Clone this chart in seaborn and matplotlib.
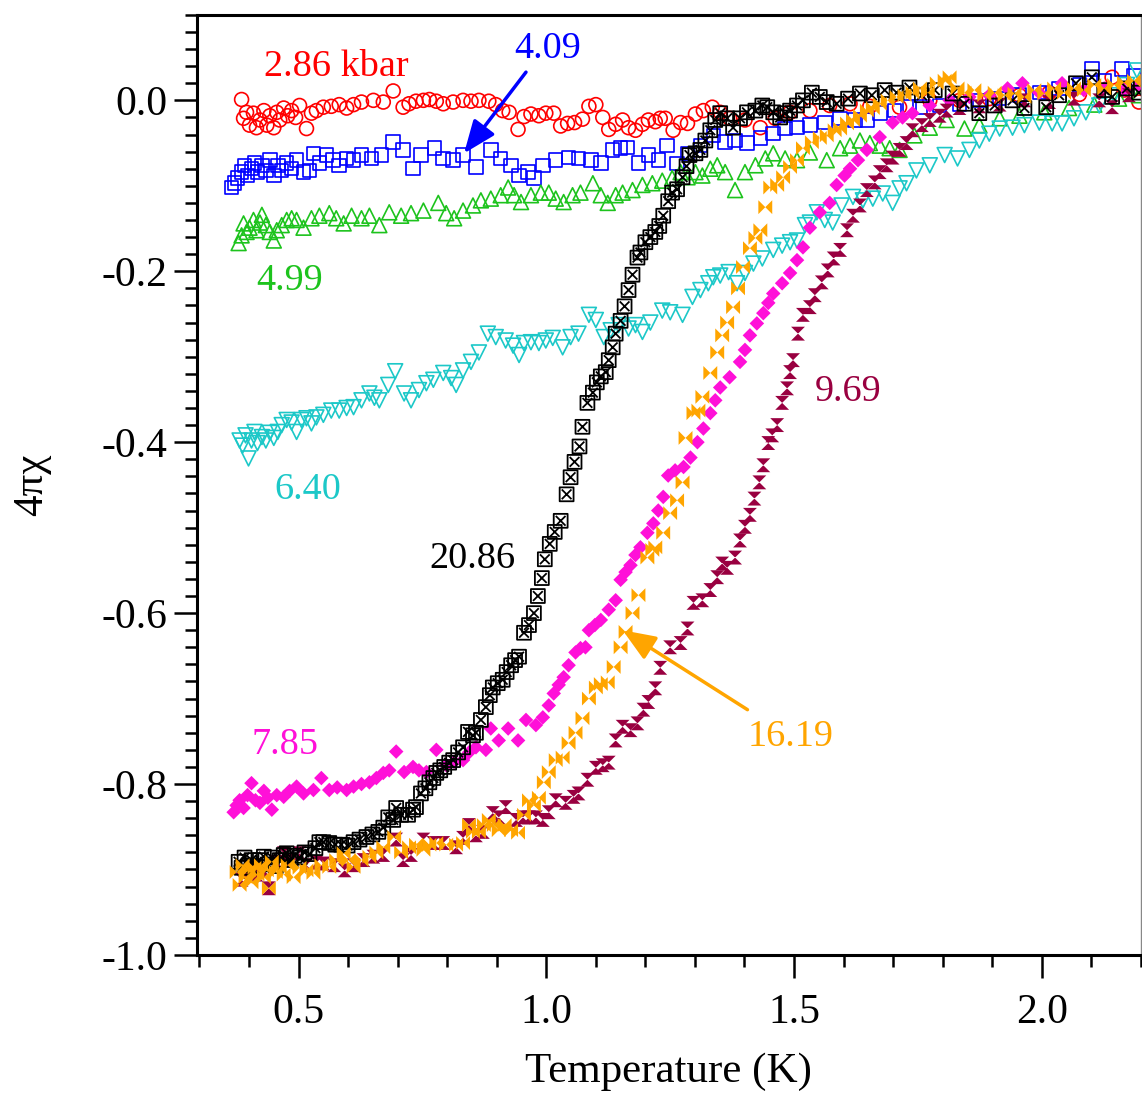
import numpy as np
import pandas as pd
import matplotlib
matplotlib.use("Agg")
import matplotlib.pyplot as plt
from matplotlib.path import Path
from matplotlib.ticker import MultipleLocator, FormatStrFormatter
import seaborn as sns

# ---------------- data (T in K, 4*pi*chi) ----------------
p286 = [(0.385, 0.001), (0.395, -0.014), (0.389, -0.021), (0.401, -0.029), (0.409, -0.015), (0.415, -0.032),
        (0.422, -0.023), (0.430, -0.012), (0.436, -0.029), (0.442, -0.018), (0.450, -0.032), (0.456, -0.014),
        (0.462, -0.023), (0.470, -0.009), (0.478, -0.018), (0.486, -0.012), (0.494, -0.020), (0.502, -0.006),
        (0.516, -0.033), (0.526, -0.015), (0.536, -0.012), (0.550, -0.008), (0.566, -0.007), (0.582, -0.005),
        (0.597, -0.009), (0.611, -0.005), (0.627, -0.002), (0.651, 0.000), (0.671, -0.002), (0.691, 0.011),
        (0.711, -0.008), (0.723, -0.004), (0.737, -0.001), (0.752, 0.000), (0.764, 0.001), (0.778, -0.001),
        (0.792, -0.004), (0.812, -0.002), (0.832, 0.000), (0.848, -0.001), (0.864, 0.000), (0.884, -0.001),
        (0.898, -0.005), (0.912, -0.012), (0.925, -0.014), (0.943, -0.034), (0.955, -0.019), (0.969, -0.016),
        (0.985, -0.018), (0.999, -0.015), (1.015, -0.015), (1.029, -0.030), (1.043, -0.027), (1.057, -0.026),
        (1.073, -0.022), (1.086, -0.007), (1.100, -0.005), (1.114, -0.020), (1.126, -0.034), (1.140, -0.028),
        (1.154, -0.023), (1.166, -0.032), (1.180, -0.035), (1.194, -0.028), (1.206, -0.023), (1.220, -0.025),
        (1.230, -0.021), (1.240, -0.021), (1.256, -0.035), (1.271, -0.026), (1.285, -0.027), (1.301, -0.016),
        (1.317, -0.012), (1.335, -0.008), (1.351, -0.014), (1.370, -0.021), (1.401, -0.023), (1.432, -0.032),
        (1.462, -0.021), (1.492, -0.014), (1.532, -0.012), (1.572, -0.006), (1.613, -0.004), (1.653, -0.007),
        (1.713, -0.008), (1.774, 0.000), (1.834, 0.000), (1.894, 0.002), (1.955, 0.006), (2.015, 0.009),
        (2.076, 0.007), (2.142, 0.027), (2.166, 0.012), (2.196, -0.002)]

p409 = [(0.365, -0.102), (0.371, -0.097), (0.377, -0.091), (0.385, -0.084), (0.391, -0.076), (0.397, -0.088),
        (0.405, -0.080), (0.411, -0.073), (0.417, -0.084), (0.426, -0.076), (0.434, -0.082), (0.442, -0.070),
        (0.450, -0.088), (0.458, -0.076), (0.466, -0.082), (0.476, -0.073), (0.486, -0.080), (0.496, -0.070),
        (0.510, -0.084), (0.522, -0.082), (0.530, -0.062), (0.542, -0.073), (0.556, -0.064), (0.570, -0.070),
        (0.582, -0.076), (0.597, -0.068), (0.611, -0.070), (0.627, -0.064), (0.647, -0.068), (0.667, -0.064),
        (0.691, -0.049), (0.711, -0.058), (0.731, -0.080), (0.747, -0.064), (0.774, -0.056), (0.792, -0.068),
        (0.812, -0.070), (0.832, -0.064), (0.858, -0.078), (0.888, -0.058), (0.908, -0.068), (0.929, -0.076),
        (0.945, -0.088), (0.963, -0.084), (0.975, -0.091), (0.993, -0.076), (1.019, -0.070), (1.045, -0.067),
        (1.065, -0.068), (1.090, -0.070), (1.110, -0.073), (1.134, -0.058), (1.150, -0.056), (1.164, -0.055),
        (1.186, -0.073), (1.206, -0.064), (1.226, -0.070), (1.244, -0.053), (1.264, -0.074), (1.285, -0.062),
        (1.311, -0.053), (1.337, -0.041), (1.361, -0.049), (1.381, -0.047), (1.405, -0.050), (1.432, -0.044),
        (1.458, -0.039), (1.482, -0.033), (1.506, -0.032), (1.532, -0.029), (1.562, -0.026), (1.593, -0.021),
        (1.623, -0.023), (1.647, -0.023), (1.673, -0.015), (1.703, -0.012), (1.733, -0.008), (1.754, -0.008),
        (1.794, -0.006), (1.834, -0.004), (1.874, 0.000), (1.915, 0.002), (1.955, 0.006), (1.995, 0.009),
        (2.035, 0.014), (2.076, 0.018), (2.101, 0.037), (2.126, 0.023), (2.162, 0.037), (2.186, 0.029)]

p499 = [(0.379, -0.167), (0.385, -0.158), (0.389, -0.144), (0.395, -0.154), (0.401, -0.149), (0.409, -0.140),
        (0.415, -0.152), (0.422, -0.143), (0.426, -0.134), (0.434, -0.146), (0.442, -0.154), (0.450, -0.164),
        (0.456, -0.152), (0.466, -0.146), (0.476, -0.140), (0.486, -0.138), (0.496, -0.140), (0.510, -0.149),
        (0.526, -0.138), (0.542, -0.135), (0.562, -0.132), (0.576, -0.138), (0.591, -0.144), (0.607, -0.135),
        (0.627, -0.138), (0.643, -0.135), (0.663, -0.146), (0.683, -0.131), (0.707, -0.135), (0.727, -0.132),
        (0.752, -0.129), (0.782, -0.120), (0.798, -0.132), (0.814, -0.138), (0.832, -0.129), (0.852, -0.123),
        (0.868, -0.117), (0.888, -0.115), (0.908, -0.111), (0.923, -0.102), (0.935, -0.111), (0.949, -0.119),
        (0.969, -0.111), (0.989, -0.108), (1.005, -0.108), (1.019, -0.115), (1.035, -0.119), (1.053, -0.111),
        (1.069, -0.108), (1.094, -0.097), (1.110, -0.111), (1.124, -0.120), (1.140, -0.111), (1.154, -0.108),
        (1.174, -0.105), (1.194, -0.099), (1.214, -0.097), (1.234, -0.094), (1.254, -0.091), (1.271, -0.084),
        (1.285, -0.090), (1.301, -0.084), (1.315, -0.088), (1.331, -0.080), (1.345, -0.076), (1.361, -0.084),
        (1.381, -0.105), (1.401, -0.084), (1.422, -0.076), (1.442, -0.068), (1.458, -0.062), (1.482, -0.068),
        (1.506, -0.070), (1.532, -0.061), (1.566, -0.070), (1.593, -0.056), (1.613, -0.053), (1.633, -0.047),
        (1.653, -0.050), (1.673, -0.053), (1.693, -0.056), (1.713, -0.058), (1.743, -0.041), (1.774, -0.032),
        (1.808, -0.023), (1.844, -0.033), (1.874, -0.029), (1.915, -0.021), (1.955, -0.018), (2.005, -0.014),
        (2.055, -0.009), (2.106, -0.005), (2.156, 0.002), (2.196, 0.006)]

p640 = [(0.381, -0.398), (0.387, -0.404), (0.393, -0.392), (0.399, -0.419), (0.405, -0.398), (0.411, -0.388),
        (0.417, -0.401), (0.426, -0.394), (0.434, -0.398), (0.442, -0.389), (0.450, -0.395), (0.458, -0.388),
        (0.466, -0.380), (0.476, -0.374), (0.486, -0.377), (0.496, -0.388), (0.506, -0.374), (0.516, -0.372),
        (0.526, -0.378), (0.536, -0.371), (0.550, -0.368), (0.566, -0.363), (0.582, -0.363), (0.597, -0.360),
        (0.611, -0.359), (0.627, -0.351), (0.643, -0.343), (0.653, -0.348), (0.663, -0.351), (0.681, -0.333),
        (0.695, -0.317), (0.713, -0.343), (0.727, -0.351), (0.743, -0.339), (0.758, -0.331), (0.772, -0.327),
        (0.792, -0.319), (0.808, -0.325), (0.818, -0.333), (0.832, -0.316), (0.848, -0.306), (0.864, -0.295),
        (0.882, -0.273), (0.898, -0.277), (0.918, -0.281), (0.933, -0.287), (0.945, -0.298), (0.955, -0.284),
        (0.969, -0.283), (0.985, -0.284), (0.999, -0.281), (1.013, -0.278), (1.033, -0.289), (1.049, -0.277),
        (1.065, -0.273), (1.086, -0.251), (1.100, -0.257), (1.116, -0.277), (1.130, -0.269), (1.146, -0.263),
        (1.166, -0.267), (1.180, -0.263), (1.194, -0.271), (1.210, -0.260), (1.234, -0.246), (1.250, -0.248),
        (1.275, -0.251), (1.295, -0.230), (1.311, -0.222), (1.327, -0.214), (1.337, -0.207), (1.351, -0.205),
        (1.368, -0.201), (1.385, -0.214), (1.401, -0.202), (1.418, -0.191), (1.436, -0.185), (1.458, -0.175),
        (1.476, -0.170), (1.492, -0.166), (1.506, -0.164), (1.522, -0.146), (1.532, -0.143), (1.546, -0.131),
        (1.562, -0.140), (1.578, -0.143), (1.596, -0.123), (1.619, -0.113), (1.639, -0.117), (1.659, -0.115),
        (1.679, -0.109), (1.699, -0.120), (1.713, -0.103), (1.727, -0.097), (1.747, -0.082), (1.774, -0.076),
        (1.804, -0.064), (1.830, -0.068), (1.854, -0.058), (1.874, -0.047), (1.894, -0.039), (1.915, -0.033),
        (1.941, -0.032), (1.965, -0.029), (1.995, -0.026), (2.021, -0.027), (2.041, -0.027), (2.065, -0.021),
        (2.089, -0.014), (2.116, -0.006), (2.146, 0.006), (2.172, 0.018), (2.192, 0.035)]

p785 = [(0.369, -0.833), (0.375, -0.825), (0.381, -0.819), (0.389, -0.828), (0.397, -0.813), (0.405, -0.799),
        (0.413, -0.819), (0.422, -0.822), (0.430, -0.808), (0.438, -0.816), (0.446, -0.830), (0.456, -0.813),
        (0.470, -0.815), (0.482, -0.808), (0.496, -0.803), (0.510, -0.811), (0.530, -0.807), (0.546, -0.793),
        (0.562, -0.807), (0.578, -0.804), (0.597, -0.807), (0.611, -0.803), (0.627, -0.800), (0.643, -0.798),
        (0.657, -0.793), (0.671, -0.787), (0.683, -0.784), (0.697, -0.762), (0.713, -0.786), (0.731, -0.780),
        (0.743, -0.784), (0.758, -0.786), (0.778, -0.760), (0.798, -0.778), (0.814, -0.774), (0.832, -0.772),
        (0.844, -0.763), (0.858, -0.757), (0.878, -0.760), (0.888, -0.735), (0.904, -0.749), (0.923, -0.735),
        (0.943, -0.749), (0.959, -0.725), (0.979, -0.731), (0.993, -0.722), (1.005, -0.708), (1.015, -0.694),
        (1.025, -0.684), (1.035, -0.675), (1.045, -0.661), (1.059, -0.646), (1.069, -0.641), (1.079, -0.640),
        (1.086, -0.620), (1.098, -0.614), (1.110, -0.608), (1.126, -0.596), (1.140, -0.585), (1.150, -0.561),
        (1.160, -0.552), (1.170, -0.544), (1.180, -0.532), (1.190, -0.523), (1.204, -0.506), (1.216, -0.495),
        (1.226, -0.480), (1.236, -0.464), (1.246, -0.439), (1.260, -0.433), (1.277, -0.429), (1.291, -0.418),
        (1.305, -0.400), (1.317, -0.384), (1.331, -0.366), (1.341, -0.351), (1.351, -0.336), (1.370, -0.324),
        (1.391, -0.306), (1.401, -0.292), (1.411, -0.275), (1.425, -0.261), (1.438, -0.249), (1.448, -0.237),
        (1.458, -0.226), (1.476, -0.214), (1.492, -0.202), (1.506, -0.187), (1.518, -0.172), (1.532, -0.149),
        (1.552, -0.131), (1.572, -0.120), (1.586, -0.099), (1.602, -0.088), (1.613, -0.080), (1.629, -0.070),
        (1.647, -0.058), (1.673, -0.043), (1.699, -0.026), (1.719, -0.020), (1.739, -0.015), (1.774, -0.006),
        (1.814, 0.000), (1.854, 0.004), (1.894, 0.006), (1.931, 0.014), (1.961, 0.020), (1.995, 0.009),
        (2.041, 0.020), (2.085, 0.012), (2.126, 0.014), (2.166, 0.012), (2.196, 0.018)]

p969 = [(0.385, -0.912), (0.395, -0.903), (0.405, -0.898), (0.415, -0.906), (0.430, -0.901), (0.440, -0.922),
        (0.456, -0.891), (0.470, -0.881), (0.486, -0.889), (0.502, -0.881), (0.516, -0.895), (0.536, -0.892),
        (0.550, -0.893), (0.572, -0.895), (0.593, -0.901), (0.611, -0.895), (0.631, -0.889), (0.651, -0.885),
        (0.671, -0.883), (0.697, -0.865), (0.711, -0.889), (0.727, -0.883), (0.752, -0.865), (0.772, -0.869),
        (0.792, -0.869), (0.818, -0.874), (0.832, -0.863), (0.844, -0.848), (0.858, -0.860), (0.872, -0.856),
        (0.892, -0.834), (0.904, -0.839), (0.918, -0.827), (0.939, -0.842), (0.953, -0.839), (0.965, -0.839),
        (0.979, -0.839), (0.993, -0.842), (1.005, -0.833), (1.019, -0.819), (1.039, -0.822), (1.055, -0.815),
        (1.065, -0.811), (1.083, -0.795), (1.100, -0.781), (1.114, -0.778), (1.126, -0.775), (1.140, -0.749),
        (1.154, -0.733), (1.170, -0.737), (1.184, -0.729), (1.196, -0.713), (1.206, -0.704), (1.220, -0.688),
        (1.230, -0.664), (1.250, -0.640), (1.271, -0.635), (1.285, -0.618), (1.297, -0.588), (1.315, -0.585),
        (1.331, -0.573), (1.345, -0.558), (1.355, -0.542), (1.365, -0.547), (1.381, -0.535), (1.391, -0.515),
        (1.401, -0.499), (1.411, -0.485), (1.420, -0.466), (1.430, -0.447), (1.438, -0.427), (1.448, -0.401),
        (1.456, -0.392), (1.466, -0.380), (1.476, -0.354), (1.486, -0.337), (1.492, -0.318), (1.498, -0.304),
        (1.508, -0.273), (1.518, -0.251), (1.532, -0.242), (1.542, -0.228), (1.556, -0.213), (1.568, -0.199),
        (1.580, -0.185), (1.593, -0.175), (1.607, -0.152), (1.619, -0.135), (1.633, -0.123), (1.647, -0.105),
        (1.663, -0.096), (1.673, -0.084), (1.687, -0.076), (1.699, -0.067), (1.713, -0.058), (1.727, -0.050),
        (1.739, -0.035), (1.758, -0.029), (1.774, -0.023), (1.794, -0.018), (1.808, -0.012), (1.834, -0.009),
        (1.874, -0.007), (1.915, -0.005), (1.965, 0.000), (2.015, -0.002), (2.065, 0.002), (2.116, 0.000),
        (2.142, -0.008), (2.176, 0.006)]

p1619 = [(0.375, -0.903), (0.381, -0.918), (0.387, -0.895), (0.393, -0.909), (0.399, -0.901), (0.405, -0.915),
         (0.411, -0.898), (0.417, -0.906), (0.424, -0.895), (0.430, -0.909), (0.436, -0.901), (0.440, -0.922),
         (0.446, -0.891), (0.454, -0.903), (0.462, -0.898), (0.470, -0.906), (0.478, -0.895), (0.490, -0.909),
         (0.502, -0.898), (0.516, -0.901), (0.530, -0.904), (0.546, -0.895), (0.562, -0.897), (0.576, -0.889),
         (0.591, -0.881), (0.601, -0.889), (0.611, -0.897), (0.627, -0.889), (0.643, -0.885), (0.657, -0.880),
         (0.671, -0.874), (0.693, -0.862), (0.707, -0.880), (0.723, -0.874), (0.737, -0.871), (0.752, -0.877),
         (0.764, -0.871), (0.778, -0.869), (0.798, -0.871), (0.818, -0.871), (0.832, -0.869), (0.844, -0.848),
         (0.852, -0.856), (0.864, -0.856), (0.874, -0.848), (0.884, -0.842), (0.894, -0.848), (0.904, -0.854),
         (0.916, -0.848), (0.929, -0.854), (0.943, -0.857), (0.955, -0.836), (0.965, -0.819), (0.975, -0.825),
         (0.985, -0.816), (0.995, -0.798), (1.005, -0.786), (1.019, -0.772), (1.033, -0.769), (1.045, -0.752),
         (1.059, -0.740), (1.073, -0.723), (1.086, -0.700), (1.100, -0.687), (1.110, -0.683), (1.124, -0.681),
         (1.136, -0.663), (1.150, -0.640), (1.160, -0.622), (1.174, -0.600), (1.186, -0.579), (1.204, -0.535),
         (1.214, -0.526), (1.220, -0.523), (1.236, -0.506), (1.250, -0.483), (1.264, -0.468), (1.275, -0.447),
         (1.281, -0.395), (1.297, -0.366), (1.307, -0.363), (1.315, -0.347), (1.331, -0.319), (1.345, -0.295),
         (1.355, -0.275), (1.365, -0.260), (1.377, -0.242), (1.387, -0.220), (1.397, -0.195), (1.411, -0.173),
         (1.422, -0.161), (1.432, -0.152), (1.442, -0.125), (1.452, -0.102), (1.466, -0.099), (1.478, -0.090),
         (1.492, -0.078), (1.506, -0.070), (1.518, -0.056), (1.536, -0.049), (1.552, -0.044), (1.566, -0.041),
         (1.582, -0.035), (1.593, -0.033), (1.607, -0.027), (1.619, -0.023), (1.633, -0.018), (1.647, -0.012),
         (1.659, -0.009), (1.673, -0.004), (1.689, 0.000), (1.707, 0.004), (1.723, 0.006), (1.739, 0.009),
         (1.754, 0.014), (1.770, 0.009), (1.788, 0.020), (1.804, 0.023), (1.814, 0.027), (1.830, 0.014),
         (1.844, 0.009), (1.864, 0.012), (1.884, 0.006), (1.905, 0.009), (1.925, 0.006), (1.945, 0.008),
         (1.965, 0.004), (1.985, 0.012), (2.005, 0.008), (2.025, 0.014), (2.045, 0.009), (2.065, 0.014),
         (2.085, 0.012), (2.106, 0.018), (2.126, 0.014), (2.146, 0.018), (2.166, 0.021), (2.186, 0.023)]

p2086 = [(0.379, -0.891), (0.385, -0.898), (0.391, -0.886), (0.399, -0.895), (0.405, -0.889), (0.413, -0.896),
         (0.422, -0.889), (0.430, -0.885), (0.438, -0.894), (0.446, -0.886), (0.454, -0.896), (0.462, -0.889),
         (0.470, -0.883), (0.476, -0.881), (0.484, -0.889), (0.492, -0.884), (0.502, -0.886), (0.512, -0.880),
         (0.522, -0.882), (0.534, -0.875), (0.542, -0.868), (0.550, -0.868), (0.562, -0.869), (0.574, -0.871),
         (0.586, -0.871), (0.599, -0.872), (0.611, -0.868), (0.623, -0.865), (0.637, -0.862), (0.649, -0.859),
         (0.661, -0.856), (0.671, -0.851), (0.681, -0.839), (0.691, -0.842), (0.697, -0.828), (0.707, -0.836),
         (0.721, -0.836), (0.731, -0.830), (0.737, -0.827), (0.747, -0.811), (0.756, -0.805), (0.764, -0.798),
         (0.772, -0.793), (0.778, -0.787), (0.786, -0.784), (0.794, -0.780), (0.804, -0.775), (0.812, -0.772),
         (0.822, -0.763), (0.832, -0.757), (0.842, -0.739), (0.852, -0.743), (0.858, -0.740), (0.868, -0.725),
         (0.878, -0.710), (0.886, -0.696), (0.892, -0.687), (0.902, -0.682), (0.912, -0.678), (0.920, -0.669),
         (0.929, -0.661), (0.937, -0.655), (0.945, -0.651), (0.955, -0.623), (0.965, -0.614), (0.975, -0.600),
         (0.983, -0.580), (0.991, -0.559), (0.997, -0.537), (1.007, -0.519), (1.017, -0.505), (1.029, -0.492),
         (1.041, -0.461), (1.049, -0.441), (1.057, -0.423), (1.067, -0.405), (1.073, -0.382), (1.083, -0.354),
         (1.094, -0.342), (1.102, -0.330), (1.110, -0.323), (1.120, -0.318), (1.126, -0.304), (1.134, -0.289),
         (1.140, -0.273), (1.150, -0.258), (1.158, -0.241), (1.166, -0.222), (1.174, -0.204), (1.184, -0.184),
         (1.190, -0.178), (1.200, -0.166), (1.210, -0.160), (1.220, -0.154), (1.228, -0.147), (1.236, -0.135),
         (1.246, -0.118), (1.254, -0.108), (1.264, -0.104), (1.275, -0.090), (1.283, -0.077), (1.289, -0.064),
         (1.301, -0.062), (1.311, -0.058), (1.321, -0.047), (1.331, -0.035), (1.341, -0.023), (1.351, -0.015),
         (1.365, -0.021), (1.377, -0.032), (1.391, -0.021), (1.405, -0.014), (1.422, -0.012), (1.436, -0.006),
         (1.446, -0.008), (1.458, -0.014), (1.472, -0.020), (1.482, -0.015), (1.492, -0.012), (1.506, -0.006),
         (1.518, 0.000), (1.536, 0.009), (1.552, 0.004), (1.566, -0.002), (1.586, -0.004), (1.609, 0.002),
         (1.633, 0.008), (1.657, 0.006), (1.683, 0.012), (1.707, 0.009), (1.733, 0.015), (1.758, 0.006),
         (1.784, 0.012), (1.820, 0.008), (1.844, -0.004), (1.874, -0.015), (1.905, -0.006), (1.941, 0.000),
         (1.965, -0.009), (2.009, -0.008), (2.035, 0.006), (2.069, 0.020), (2.101, 0.027), (2.126, 0.012),
         (2.142, 0.004), (2.172, 0.014), (2.196, 0.009)]

pressures = ["2.86", "4.09", "4.99", "6.40", "7.85", "9.69", "20.86", "16.19"]
series = {"2.86": p286, "4.09": p409, "4.99": p499, "6.40": p640, "7.85": p785,
          "9.69": p969, "16.19": p1619, "20.86": p2086}

rows = []
for p, pts in series.items():
    for t, c in pts:
        rows.append((p, t, c))
df = pd.DataFrame(rows, columns=["P", "T", "chi"])

# ---------------- styling ----------------
sns.set_style("ticks")
plt.rcParams["font.family"] = ["Liberation Serif", "DejaVu Serif"]
plt.rcParams["text.color"] = "black"
plt.rcParams["axes.labelcolor"] = "black"
plt.rcParams["xtick.color"] = "black"
plt.rcParams["ytick.color"] = "black"
plt.rcParams["axes.edgecolor"] = "black"

colors = {"2.86": "#FF0000", "4.09": "#0000FF", "4.99": "#1DC31D", "6.40": "#1CC8C8",
          "7.85": "#FF10D8", "9.69": "#990040", "16.19": "#FFA500", "20.86": "#000000"}

hourglass = Path([(-1, 1), (1, 1), (0, 0), (-1, 1), (-1, -1), (1, -1), (0, 0), (-1, -1)],
                 [Path.MOVETO, Path.LINETO, Path.LINETO, Path.CLOSEPOLY,
                  Path.MOVETO, Path.LINETO, Path.LINETO, Path.CLOSEPOLY])
bowtie = Path([(-1, -1), (-1, 1), (0, 0), (-1, -1), (1, 1), (1, -1), (0, 0), (1, 1)],
              [Path.MOVETO, Path.LINETO, Path.LINETO, Path.CLOSEPOLY,
               Path.MOVETO, Path.LINETO, Path.LINETO, Path.CLOSEPOLY])
sqx = Path([(-1, -1), (1, -1), (1, 1), (-1, 1), (-1, -1),
            (-0.7, -0.7), (0.7, 0.7), (-0.7, 0.7), (0.7, -0.7)],
           [Path.MOVETO, Path.LINETO, Path.LINETO, Path.LINETO, Path.CLOSEPOLY,
            Path.MOVETO, Path.LINETO, Path.MOVETO, Path.LINETO])

styles = {
    "2.86": dict(marker="o", s=100, open=True, lw=1.2),
    "4.09": dict(marker="s", s=95, open=True, lw=1.2),
    "4.99": dict(marker="^", s=115, open=True, lw=1.2),
    "6.40": dict(marker="v", s=115, open=True, lw=1.2),
    "7.85": dict(marker="D", s=55, open=False, lw=0),
    "9.69": dict(marker=hourglass, s=100, open=False, lw=0),
    "20.86": dict(marker=sqx, s=100, open=True, lw=1.3),
    "16.19": dict(marker=bowtie, s=100, open=False, lw=0),
}

fig = plt.figure(figsize=(11.42, 10.95), dpi=100)
ax = fig.add_axes([0.1725, 0.1279, 0.8265, 0.8585])

for p in pressures:
    st = styles[p]
    sub = df[df["P"] == p]
    col = colors[p]
    if st["open"]:
        sns.scatterplot(data=sub, x="T", y="chi", ax=ax, marker=st["marker"], s=st["s"],
                        color=col, facecolor="none", edgecolor=col, linewidth=st["lw"], legend=False)
    else:
        sns.scatterplot(data=sub, x="T", y="chi", ax=ax, marker=st["marker"], s=st["s"],
                        color=col, edgecolor="none", linewidth=0, legend=False)

ax.set_xlim(0.295, 2.2)
ax.set_ylim(-1.0, 0.1)

ax.xaxis.set_major_locator(MultipleLocator(0.5))
ax.xaxis.set_minor_locator(MultipleLocator(0.1))
ax.yaxis.set_major_locator(MultipleLocator(0.2))
ax.yaxis.set_minor_locator(MultipleLocator(0.02))
ax.xaxis.set_major_formatter(FormatStrFormatter("%.1f"))
ax.yaxis.set_major_formatter(FormatStrFormatter("%.1f"))

ax.tick_params(which="major", direction="out", length=16.5, width=1.8, labelsize=30,
               color="black", labelcolor="black")
ax.tick_params(which="minor", direction="out", length=8.5, width=1.8, color="black")
ax.tick_params(axis="x", which="major", pad=11)
ax.tick_params(axis="y", which="major", pad=5)
ax.tick_params(top=False, right=False, which="both")

for side in ["left", "bottom", "top"]:
    ax.spines[side].set_linewidth(2.2)
    ax.spines[side].set_color("black")
ax.spines["right"].set_linewidth(1.0)
ax.spines["right"].set_color("#888888")

ax.set_xlabel("Temperature (K)", fontsize=31, color="black")
ax.set_ylabel("4πχ", fontsize=31, color="black")
ax.xaxis.set_label_coords(0.5, -0.104)
ax.yaxis.set_label_coords(-0.155, 0.5)

# ---------------- annotations ----------------
fs = 27.5
ax.text(0.430, 0.029, "2.86 kbar", color=colors["2.86"], fontsize=fs, va="baseline", ha="left")
ax.text(0.935, 0.049, "4.09", color=colors["4.09"], fontsize=fs, va="baseline", ha="left")
ax.text(0.415, -0.222, "4.99", color=colors["4.99"], fontsize=fs, va="baseline", ha="left")
ax.text(0.452, -0.467, "6.40", color=colors["6.40"], fontsize=fs, va="baseline", ha="left")
ax.text(0.764, -0.547, "20.86", color=colors["20.86"], fontsize=fs, va="baseline", ha="left")
ax.text(0.405, -0.765, "7.85", color=colors["7.85"], fontsize=fs, va="baseline", ha="left")
ax.text(1.406, -0.756, "16.19", color=colors["16.19"], fontsize=fs, va="baseline", ha="left")
ax.text(1.542, -0.352, "9.69", color=colors["9.69"], fontsize=fs, va="baseline", ha="left")

ax.annotate("", xy=(0.834, -0.062), xytext=(0.959, 0.033),
            arrowprops=dict(arrowstyle="-|>,head_length=1.0,head_width=0.4", color=colors["4.09"],
                            lw=2.5, shrinkA=0, shrinkB=0, mutation_scale=20))
ax.annotate("", xy=(1.154, -0.620), xytext=(1.406, -0.713),
            arrowprops=dict(arrowstyle="-|>,head_length=1.0,head_width=0.4", color=colors["16.19"],
                            lw=2.5, shrinkA=0, shrinkB=0, mutation_scale=20))

fig.savefig("out.png", dpi=100)
